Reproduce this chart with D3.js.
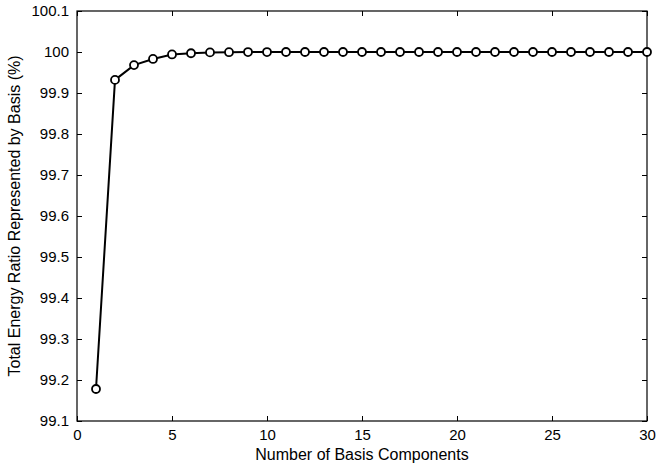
<!DOCTYPE html>
<html>
<head>
<meta charset="utf-8">
<script src="https://cdn.jsdelivr.net/npm/d3@7"></script>
<style>
  html, body { margin: 0; padding: 0; background: #fff; }
  svg { display: block; }
  text { font-family: "Liberation Sans", Arial, sans-serif; fill: #000; }
</style>
</head>
<body>
<div id="chart"></div>
<script>
const components = d3.range(1, 31);
const energyRatio = [
  99.178, 99.932, 99.968, 99.983, 99.994, 99.997, 99.999, 99.9995, 99.9998, 99.9999,
  100, 100, 100, 100, 100, 100, 100, 100, 100, 100,
  100, 100, 100, 100, 100, 100, 100, 100, 100, 100
];
const xTicks = [0, 5, 10, 15, 20, 25, 30];
const yTicks = [99.1, 99.2, 99.3, 99.4, 99.5, 99.6, 99.7, 99.8, 99.9, 100, 100.1];

const WIDTH = 657, HEIGHT = 466;
const MARGIN = { top: 11, right: 10, bottom: 45, left: 77 };
const innerW = WIDTH - MARGIN.left - MARGIN.right;
const innerH = HEIGHT - MARGIN.top - MARGIN.bottom;

const svg = d3.select("#chart").append("svg")
  .attr("width", WIDTH).attr("height", HEIGHT);

const g = svg.append("g").attr("transform", `translate(${MARGIN.left},${MARGIN.top})`);

const x = d3.scaleLinear().domain([0, 30]).range([0, innerW]);
const y = d3.scaleLinear().domain([99.1, 100.1]).range([innerH, 0]);

const fmtY = (d) => (Math.abs(d - 100) < 1e-9 ? "100" : d3.format(".1f")(d));

// ticks (inside, mirrored like MATLAB)
function styleAxis(sel) {
  sel.select(".domain").remove();
  sel.selectAll("line").attr("stroke", "#000").attr("stroke-width", 1);
  sel.selectAll("text").style("font-size", "15px");
}

g.append("g").attr("transform", `translate(0,${innerH})`)
  .call(d3.axisBottom(x).tickValues(xTicks).tickSizeInner(-5).tickSizeOuter(0).tickPadding(8))
  .call(styleAxis);
g.append("g")
  .call(d3.axisTop(x).tickValues(xTicks).tickSizeInner(-5).tickSizeOuter(0).tickFormat(""))
  .call(styleAxis);
g.append("g")
  .call(d3.axisLeft(y).tickValues(yTicks).tickSizeInner(-5).tickSizeOuter(0).tickPadding(8).tickFormat(fmtY))
  .call(styleAxis);
g.append("g").attr("transform", `translate(${innerW},0)`)
  .call(d3.axisRight(y).tickValues(yTicks).tickSizeInner(-5).tickSizeOuter(0).tickFormat(""))
  .call(styleAxis);

g.append("rect")
  .attr("width", innerW).attr("height", innerH)
  .attr("fill", "none").attr("stroke", "#000").attr("stroke-width", 1.2);

const series = components.map((c, i) => ({ c, v: energyRatio[i] }));

g.append("path")
  .datum(series)
  .attr("fill", "none")
  .attr("stroke", "#000")
  .attr("stroke-width", 2)
  .attr("d", d3.line().x((d) => x(d.c)).y((d) => y(d.v)));

g.selectAll(".pt")
  .data(series)
  .join("circle")
  .attr("class", "pt")
  .attr("cx", (d) => x(d.c))
  .attr("cy", (d) => y(d.v))
  .attr("r", 4)
  .attr("fill", "#fff")
  .attr("stroke", "#000")
  .attr("stroke-width", 1.8);

svg.append("text")
  .attr("x", MARGIN.left + innerW / 2)
  .attr("y", 460)
  .attr("text-anchor", "middle")
  .style("font-size", "16px")
  .text("Number of Basis Components");

svg.append("text")
  .attr("transform", `translate(20,${MARGIN.top + innerH / 2}) rotate(-90)`)
  .attr("text-anchor", "middle")
  .style("font-size", "16px")
  .text("Total Energy Ratio Represented by Basis (%)");
</script>
</body>
</html>
